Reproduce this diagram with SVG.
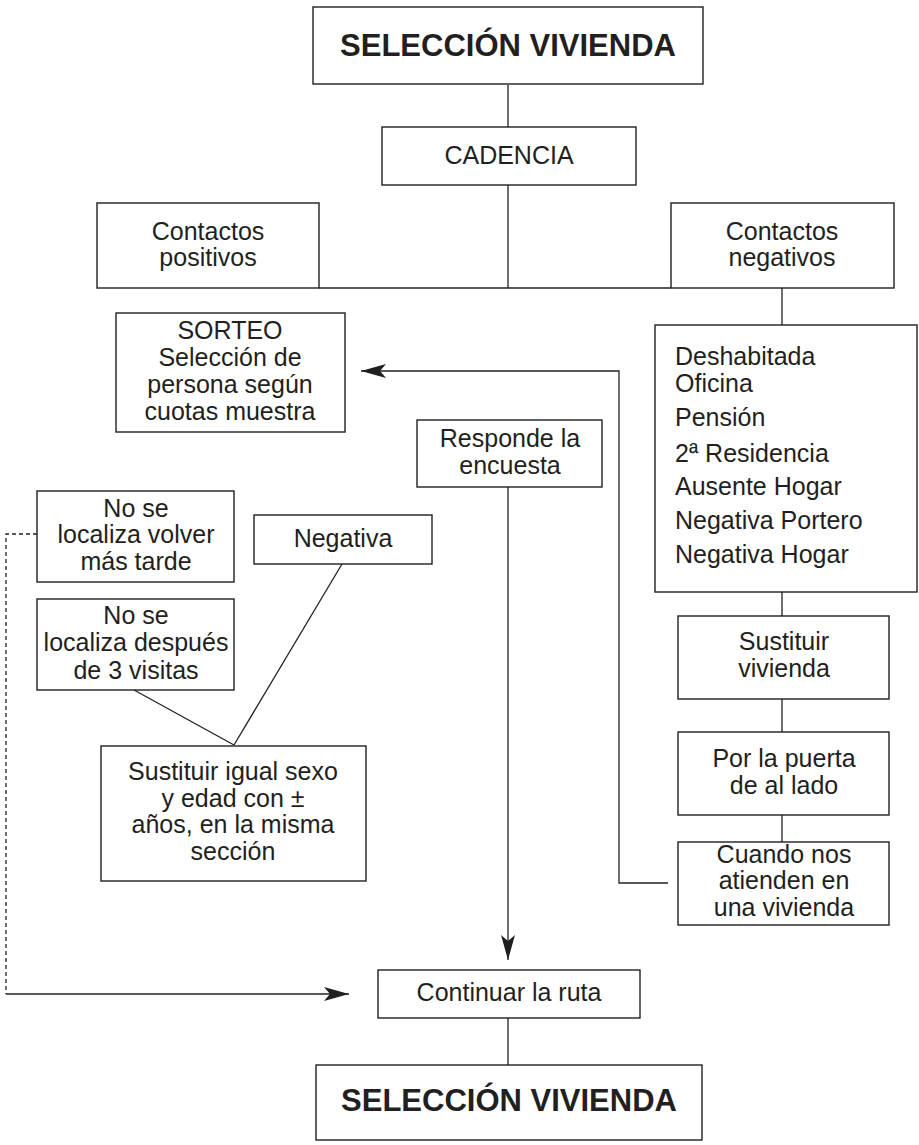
<svg xmlns="http://www.w3.org/2000/svg" width="919" height="1145" viewBox="0 0 919 1145">
<style>
.b{fill:#fff;stroke:#231f20;stroke-width:1.4}
.t{font-family:"Liberation Sans",Arial,sans-serif;font-size:25px;fill:#231f20;text-anchor:middle}
.l{text-anchor:start}
.h{font-size:31px;font-weight:bold}
.c{fill:none;stroke:#231f20;stroke-width:1.3}
.d{stroke-dasharray:4,3}
</style>
<defs>
<marker id="ah" viewBox="0 0 25 14" refX="25" refY="7" markerWidth="25" markerHeight="14" markerUnits="userSpaceOnUse" orient="auto">
<path d="M25,7 L0,0 L6,7 L0,14 Z" fill="#231f20"/>
</marker>
</defs>
<rect width="919" height="1145" fill="#fff"/>
<g id="connectors">
<line class="c" x1="508" y1="85" x2="508" y2="127"/>
<line class="c" x1="508" y1="185" x2="508" y2="288"/>
<line class="c" x1="319" y1="288" x2="671" y2="288"/>
<line class="c" x1="782" y1="288" x2="782" y2="325"/>
<line class="c" x1="782" y1="592" x2="782" y2="616"/>
<line class="c" x1="782" y1="699" x2="782" y2="732"/>
<line class="c" x1="782" y1="815" x2="782" y2="842"/>
<polyline class="c" points="668,883 619,883 619,371 361,371" marker-end="url(#ah)"/>
<line class="c" x1="508" y1="487" x2="508" y2="960" marker-end="url(#ah)"/>
<line class="c" x1="134" y1="690" x2="234" y2="745"/>
<line class="c" x1="342" y1="564" x2="234" y2="745"/>
<line class="c" x1="508" y1="1018" x2="508" y2="1065"/>
<polyline class="c d" points="37,534 6,534 6,994"/>
<line class="c" x1="6" y1="994" x2="349" y2="994" marker-end="url(#ah)"/>
</g>
<g id="top">
<rect class="b" x="313" y="7" width="390" height="77"/>
<text class="t h" x="508" y="56">SELECCIÓN VIVIENDA</text>
</g>
<g id="cadencia">
<rect class="b" x="382" y="127" width="254" height="58"/>
<text class="t" x="509" y="164">CADENCIA</text>
</g>
<g id="positivos">
<rect class="b" x="97" y="203" width="222" height="85"/>
<text class="t" x="208" y="240">Contactos</text>
<text class="t" x="208" y="266">positivos</text>
</g>
<g id="negativos">
<rect class="b" x="671" y="203" width="223" height="85"/>
<text class="t" x="782" y="240">Contactos</text>
<text class="t" x="782" y="266">negativos</text>
</g>
<g id="sorteo">
<rect class="b" x="116" y="313" width="229" height="119"/>
<text class="t" x="230" y="339">SORTEO</text>
<text class="t" x="230" y="366">Selección de</text>
<text class="t" x="230" y="393">persona según</text>
<text class="t" x="230" y="420">cuotas muestra</text>
</g>
<g id="lista">
<rect class="b" x="655" y="325" width="262" height="267"/>
<text class="t l" x="675" y="365">Deshabitada</text>
<text class="t l" x="675" y="392">Oficina</text>
<text class="t l" x="675" y="426">Pensión</text>
<text class="t l" x="675" y="462">2ª Residencia</text>
<text class="t l" x="675" y="495">Ausente Hogar</text>
<text class="t l" x="675" y="529">Negativa Portero</text>
<text class="t l" x="675" y="563">Negativa Hogar</text>
</g>
<g id="responde">
<rect class="b" x="417" y="420" width="185" height="67"/>
<text class="t" x="510" y="447">Responde la</text>
<text class="t" x="510" y="474">encuesta</text>
</g>
<g id="volver">
<rect class="b" x="37" y="491" width="197" height="91"/>
<text class="t" x="136" y="517">No se</text>
<text class="t" x="136" y="543">localiza volver</text>
<text class="t" x="136" y="570">más tarde</text>
</g>
<g id="negativa">
<rect class="b" x="254" y="515" width="178" height="49"/>
<text class="t" x="343" y="547">Negativa</text>
</g>
<g id="despues">
<rect class="b" x="37" y="599" width="197" height="91"/>
<text class="t" x="136" y="624">No se</text>
<text class="t" x="136" y="651">localiza después</text>
<text class="t" x="136" y="679">de 3 visitas</text>
</g>
<g id="sustituir-persona">
<rect class="b" x="101" y="746" width="265" height="135"/>
<text class="t" x="233" y="780">Sustituir igual sexo</text>
<text class="t" x="233" y="807">y edad con ±</text>
<text class="t" x="233" y="833">años, en la misma</text>
<text class="t" x="233" y="860">sección</text>
</g>
<g id="sustituir-vivienda">
<rect class="b" x="678" y="616" width="211" height="83"/>
<text class="t" x="784" y="650">Sustituir</text>
<text class="t" x="784" y="677">vivienda</text>
</g>
<g id="puerta">
<rect class="b" x="678" y="732" width="211" height="83"/>
<text class="t" x="784" y="767">Por la puerta</text>
<text class="t" x="784" y="794">de al lado</text>
</g>
<g id="cuando">
<rect class="b" x="678" y="842" width="211" height="83"/>
<text class="t" x="784" y="863">Cuando nos</text>
<text class="t" x="784" y="889">atienden en</text>
<text class="t" x="784" y="916">una vivienda</text>
</g>
<g id="continuar">
<rect class="b" x="378" y="970" width="262" height="48"/>
<text class="t" x="509" y="1001">Continuar la ruta</text>
</g>
<g id="bottom">
<rect class="b" x="316" y="1065" width="386" height="75"/>
<text class="t h" x="509" y="1111">SELECCIÓN VIVIENDA</text>
</g>
</svg>
